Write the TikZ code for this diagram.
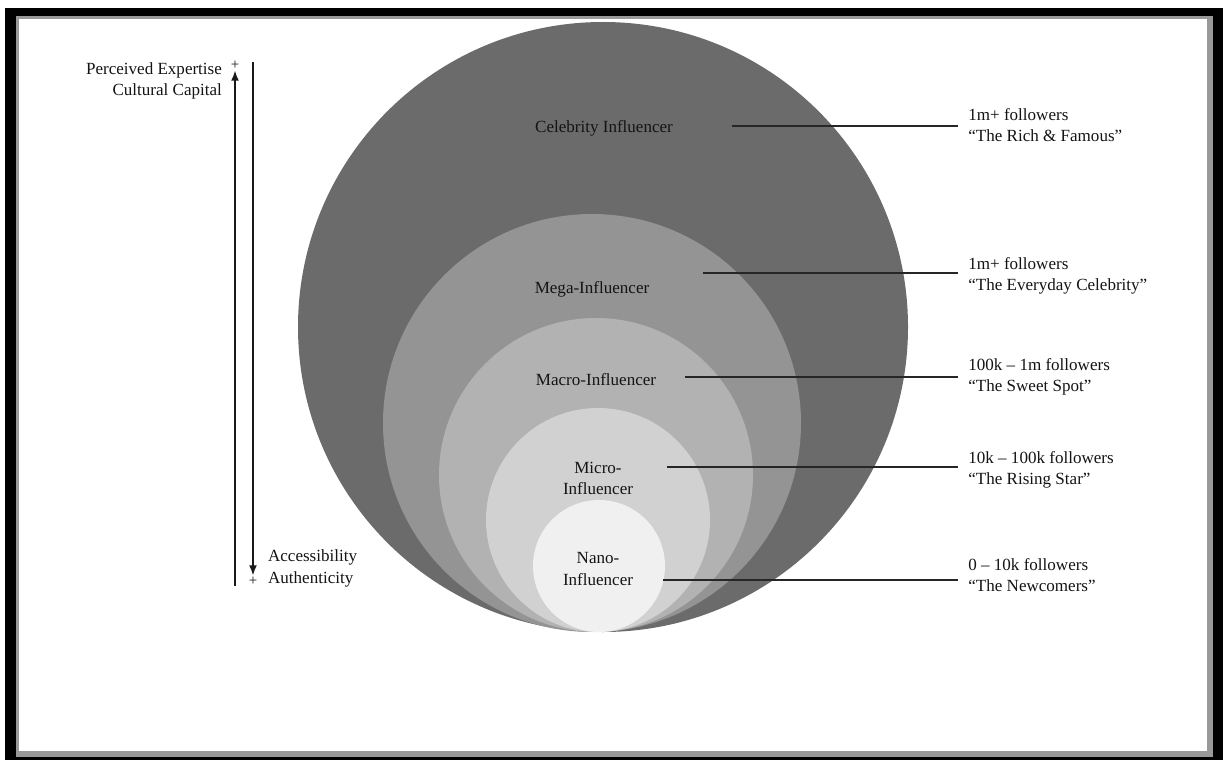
\documentclass[tikz,border=0pt]{standalone}
\usepackage{fontspec}
\setmainfont{Liberation Serif}
\usetikzlibrary{arrows.meta,positioning,calc}
\definecolor{inktext}{RGB}{20,20,20}

\begin{document}
\begin{tikzpicture}[
  x=0.02cm,y=-0.02cm,
  lbl/.style={font=\fontsize{9.7}{12}\selectfont,text=inktext,inner sep=1pt,align=center},
  tier/.style={font=\fontsize{9.7}{12}\selectfont,text=inktext,align=left,anchor=west,inner xsep=5.7pt,inner ysep=1pt},
  leader/.style={draw=black!85,line width=0.9pt},
  axis/.style={draw=black!90,line width=1.2pt,-{Latex[length=6pt,width=4.5pt]}},
  plus/.style={font=\fontsize{8.5}{9}\selectfont,text=inktext,inner sep=0.3pt}
]
  \useasboundingbox (0,0) rectangle (1223,760);
  % Frame
  \fill[black] (5,8) rectangle (1223,760);
  \fill[black!40] (16,16) rectangle (1213,757);
  \fill[white] (19,19) rectangle (1207,751);

  % Nested circles, all touching at the bottom
  \foreach \cx/\cy/\r/\shade in {603/327/305/58, 592/423/209/42, 596/475/157/30, 598/520/112/18, 599/566/66/6} {
    \fill[black!\shade] (\cx,\cy) circle[radius=\r];
  }

  % Tier names
  \node[lbl] (celebN) at (604,128) {Celebrity Influencer};
  \node[lbl] (megaN) at (592,289) {Mega-Influencer};
  \node[lbl] (macroN) at (596,380) {Macro-Influencer};
  \node[lbl] (microN) at (598,478) {Micro-\\Influencer};
  \node[lbl] (nanoN) at (598,569) {Nano-\\Influencer};

  % Follower counts with leader lines
  \foreach \nm/\sx/\sy/\ty/\fa/\fb in {
      celeb/732/126/125/1m+ followers/“The Rich \& Famous”,
      mega/703/273/276/1m+ followers/“The Everyday Celebrity”,
      macro/685/377/377/100k – 1m followers/“The Sweet Spot”,
      micro/667/467/470/10k – 100k followers/“The Rising Star”,
      nano/663/580/575/0 – 10k followers/“The Newcomers”} {
    \coordinate (\nm-s) at (\sx,\sy);
    \node[tier] (\nm-t) at (958,\ty) {\fa\\\fb};
    \draw[leader] (\nm-s) -- (\nm-s -| \nm-t.west);
  }

  % Left scale
  \node[lbl,anchor=east] (expertise) at (224,70) {Perceived Expertise};
  \node[lbl,anchor=east] (capital) at (224,91) {Cultural Capital};
  \node[lbl,anchor=west] (access) at (266,557) {Accessibility};
  \node[lbl,anchor=west] (authentic) at (266,579) {Authenticity};
  \node[plus] (plusUp) at (235,65) {+};
  \node[plus] (plusDown) at (253,581) {+};
  \coordinate (upBase) at (235,586);
  \coordinate (downTop) at (253,62);
  \draw[axis] (upBase) -- (plusUp.south);
  \draw[axis] (downTop) -- (plusDown.north);
\end{tikzpicture}
\end{document}
